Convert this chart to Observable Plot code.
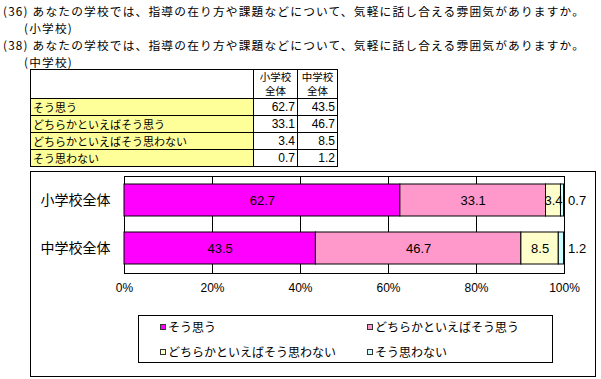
<!DOCTYPE html>
<html>
<head>
<meta charset="utf-8">
<script src="https://cdn.jsdelivr.net/npm/d3@7"></script>
<script src="https://cdn.jsdelivr.net/npm/@observablehq/plot@0.6"></script>
<style>
  html, body { margin: 0; padding: 0; background: #fff; }
  body { font-family: "Noto Sans CJK JP", "Noto Sans", sans-serif; color: #000; }
  #page { position: relative; width: 601px; height: 379px; overflow: hidden; }
  .title { position: absolute; left: 3px; top: 2px; font-size: 11.7px; letter-spacing: 1.2px; line-height: 17px; white-space: nowrap; }
  .title div { height: 17px; }
  .title .ind { padding-left: 21px; }
  table.t { position: absolute; left: 30px; top: 69px; border-collapse: collapse; table-layout: fixed; font-size: 11px; }
  table.t td { border: 1px solid #000; padding: 0 2px; line-height: 13px; height: 16px; white-space: nowrap; overflow: hidden; }
  table.t tr.h td { height: 27px; text-align: center; line-height: 14px; font-size: 10.5px; }
  table.t td.lab { background: #FFFF99; padding-left: 2px; }
  table.t td.num { text-align: right; font-family: "Liberation Sans", Arial, sans-serif; font-size: 12px; }
  #frame { position: absolute; left: 30px; top: 171px; width: 564px; height: 204px; border: 1px solid #000; }
  #chart { position: absolute; left: 0; top: 171px; }
  #legend { position: absolute; left: 138px; top: 315px; width: 413px; height: 46px; border: 1px solid #000; font-size: 12px; }
  .li { position: absolute; display: flex; align-items: center; white-space: nowrap; line-height: 14px; height: 14px; }
  .sw { width: 4px; height: 4px; border: 1px solid #333; margin-right: 2px; }
</style>
</head>
<body>
<div id="page">
  <div class="title">
    <div>(36) あなたの学校では、指導の在り方や課題などについて、気軽に話し合える雰囲気がありますか。</div>
    <div class="ind">(小学校)</div>
    <div>(38) あなたの学校では、指導の在り方や課題などについて、気軽に話し合える雰囲気がありますか。</div>
    <div class="ind">(中学校)</div>
  </div>
  <div id="tableHolder"></div>
  <div id="frame"></div>
  <div id="chart"></div>
  <div id="legend"></div>
</div>
<script>
const schools = ["小学校全体", "中学校全体"];
const tableHeaders = ["小学校<br>全体", "中学校<br>全体"];
const series = ["そう思う", "どちらかといえばそう思う", "どちらかといえばそう思わない", "そう思わない"];
const elementaryValues = [62.7, 33.1, 3.4, 0.7];
const juniorValues = [43.5, 46.7, 8.5, 1.2];
const colors = ["#FF00FF", "#FF99CC", "#FFFFCC", "#CCFFFF"];
const xTicks = [0, 20, 40, 60, 80, 100];
const gridTicks = [20, 40, 60, 80];

const valuesBySchool = [elementaryValues, juniorValues];
const data = [];
schools.forEach((s, i) => series.forEach((k, j) => data.push({school: s, series: k, value: valuesBySchool[i][j]})));
const lastSeries = series[series.length - 1];

// table
let html = '<table class="t"><colgroup><col style="width:223px"><col style="width:44px"><col style="width:40px"></colgroup>';
html += '<tr class="h"><td></td>' + tableHeaders.map(h => `<td>${h}</td>`).join("") + '</tr>';
series.forEach((k, j) => {
  html += `<tr><td class="lab">${k}</td>` + valuesBySchool.map(v => `<td class="num">${v[j].toFixed(1)}</td>`).join("") + '</tr>';
});
html += '</table>';
document.getElementById("tableHolder").innerHTML = html;

const numFont = '"Liberation Sans", Arial, sans-serif';
// chart
const chart = Plot.plot({
  width: 601,
  height: 208,
  marginLeft: 124,
  marginRight: 37,
  marginTop: 5,
  marginBottom: 106,
  style: {fontFamily: '"Noto Sans CJK JP", sans-serif', background: "transparent", overflow: "visible", color: "#000"},
  x: {domain: [0, 100], ticks: xTicks, tickFormat: d => d + "%", label: null},
  y: {domain: schools, paddingInner: 0.33, paddingOuter: 0.165, label: null},
  color: {domain: series, range: colors},
  marks: [
    Plot.ruleX(gridTicks, {stroke: "#000", strokeWidth: 1}),
    Plot.frame({stroke: "#000"}),
    Plot.barX(data, Plot.stackX({x: "value", y: "school", fill: "series", stroke: "#000", strokeWidth: 1})),
    Plot.text(data, Plot.stackX({x: "value", y: "school", z: "series",
      text: d => d.series !== lastSeries ? d.value.toFixed(1) : null,
      fontSize: 13, fill: "#000", fontFamily: numFont})),
    Plot.text(data, Plot.stackX2({x: "value", y: "school", z: "series",
      text: d => d.series === lastSeries ? d.value.toFixed(1) : null,
      textAnchor: "start", dx: 4, fontSize: 13, fill: "#000", fontFamily: numFont})),
    Plot.axisX({ticks: xTicks, tickFormat: d => d + "%", tickSize: 0, tickPadding: 10, fontSize: 12, fontFamily: numFont, label: null}),
    Plot.axisY({tickSize: 0, tickPadding: 14, fontSize: 14, label: null})
  ]
});
document.getElementById("chart").appendChild(chart);

// legend
const legend = document.getElementById("legend");
const pos = [[21, 4], [228, 4], [21, 29], [228, 29]];
series.forEach((k, j) => {
  const el = document.createElement("div");
  el.className = "li";
  el.style.left = pos[j][0] + "px";
  el.style.top = pos[j][1] + "px";
  el.innerHTML = `<span class="sw" style="background:${colors[j]}"></span><span>${k}</span>`;
  legend.appendChild(el);
});
</script>
</body>
</html>
